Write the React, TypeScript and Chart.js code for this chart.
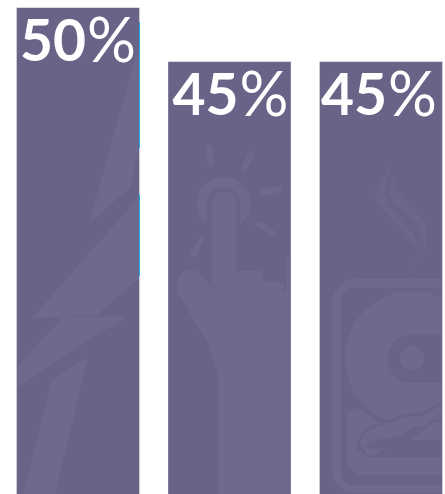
import { useEffect, useRef } from "react";
import { Chart, registerables } from "chart.js";

Chart.register(...registerables);

const categories = ["Power", "Touch", "Storage"];
const values = [50, 45, 45];
const valueLabels = ["50", "45", "45"];
const axisFloor = 5;
const axisCeiling = 50;

const BAR_COLOR = "#686488";
const GLYPH_COLOR = "#6e6a8e";
const WISP_COLOR = "#6c688c";
const EDGE_COLOR = "#1aa7d9";
const LABEL_INSETS = [3, 4, 1];

type Pt = [number, number];

// Artwork is laid out with x measured from the bar's left edge and y from the canvas top.
const boltShards: Pt[][] = [
  [[122, 45], [72, 223], [113, 188], [122, 147]],
  [[122, 197], [15, 318], [80, 315], [122, 278]],
  [[46, 317], [110, 316], [0, 387], [0, 367]],
  [[71, 357], [35, 380], [6, 494], [38, 494]],
];
const touchRays: [Pt, Pt][] = [
  [[40, 148], [43, 164]],
  [[83, 154], [75, 169]],
  [[111, 189], [94, 193]],
  [[90, 224], [104, 233]],
  [[33, 239], [25, 254]],
];
const smokeWisps: Pt[][] = [
  [[70, 165], [54, 193], [58, 203], [95, 245], [99, 250], [94, 235], [68, 205], [64, 193]],
  [[74, 177], [68, 192], [73, 202], [98, 225], [104, 240], [104, 252], [84, 277], [102, 258], [107, 240], [105, 222], [82, 197], [75, 190]],
];
const drivePanel: Pt[] = [[27, 412], [38, 408], [60, 423], [122, 423], [122, 475], [36, 475], [27, 465]];
const armOutline: Pt[] = [[37, 441], [45, 428], [89, 413], [102, 413], [117, 403], [122, 405], [122, 414], [105, 429], [90, 440], [122, 440], [122, 457], [48, 457], [37, 449]];
const armBody: Pt[] = [[40, 441], [47, 431], [90, 416], [103, 416], [118, 406], [122, 408], [122, 412], [103, 427], [93, 427], [80, 436], [50, 441], [45, 446], [52, 450], [66, 448], [54, 455], [47, 455]];

type Ctx = CanvasRenderingContext2D;

function poly(ctx: Ctx, pts: Pt[], fill: string) {
  ctx.beginPath();
  pts.forEach(([x, y], i) => (i ? ctx.lineTo(x, y) : ctx.moveTo(x, y)));
  ctx.closePath();
  ctx.fillStyle = fill;
  ctx.fill();
}

function drawBolt(ctx: Ctx) {
  boltShards.forEach((s) => poly(ctx, s, GLYPH_COLOR));
}

function drawTouch(ctx: Ctx) {
  ctx.strokeStyle = GLYPH_COLOR;
  ctx.lineWidth = 6;
  ctx.lineCap = "round";
  touchRays.forEach(([a, b]) => {
    ctx.beginPath();
    ctx.moveTo(a[0], a[1]);
    ctx.lineTo(b[0], b[1]);
    ctx.stroke();
  });
  // Halo around the fingertip
  ctx.fillStyle = GLYPH_COLOR;
  ctx.beginPath();
  ctx.arc(55, 204, 27, Math.PI * 0.85, Math.PI * 0.15);
  ctx.lineTo(72, 224);
  ctx.lineTo(72, 204);
  ctx.arc(55, 204, 17, 0, Math.PI, true);
  ctx.lineTo(38, 224);
  ctx.closePath();
  ctx.fill();
  // Pointing hand
  ctx.beginPath();
  ctx.arc(55.5, 204, 12.5, Math.PI, 0);
  ctx.lineTo(68, 271);
  ctx.lineTo(94, 271);
  ctx.lineTo(94, 282);
  ctx.lineTo(115, 282);
  ctx.lineTo(115, 292);
  ctx.lineTo(118, 292);
  ctx.lineTo(118, 257);
  ctx.lineTo(122, 257);
  ctx.lineTo(122, 494);
  ctx.lineTo(50, 494);
  ctx.lineTo(50, 375);
  ctx.lineTo(41, 347);
  ctx.lineTo(9, 292);
  ctx.lineTo(9, 282);
  ctx.quadraticCurveTo(12, 270, 23, 270);
  ctx.quadraticCurveTo(31, 271, 35, 277);
  ctx.lineTo(43, 289);
  ctx.closePath();
  ctx.fill();
}

function drawDrive(ctx: Ctx) {
  smokeWisps.forEach((s) => poly(ctx, s, WISP_COLOR));
  // Casing frame
  ctx.fillStyle = GLYPH_COLOR;
  ctx.beginPath();
  ctx.roundRect(12, 279, 140, 214, 24);
  ctx.roundRect(21, 288, 140, 197, 12);
  ctx.fill("evenodd");
  // Platter with spindle opening and hub
  ctx.beginPath();
  ctx.arc(92, 358, 67, 0, Math.PI * 2);
  ctx.fill();
  ctx.fillStyle = BAR_COLOR;
  ctx.beginPath();
  ctx.roundRect(68, 334, 80, 49, 24);
  ctx.fill();
  ctx.fillStyle = GLYPH_COLOR;
  ctx.beginPath();
  ctx.arc(92, 358, 12, 0, Math.PI * 2);
  ctx.fill();
  // Head panel and actuator arm
  poly(ctx, drivePanel, GLYPH_COLOR);
  poly(ctx, armOutline, BAR_COLOR);
  poly(ctx, armBody, GLYPH_COLOR);
}

const glyphs = [drawBolt, drawTouch, drawDrive];

const barArtwork = {
  id: "barArtwork",
  afterDatasetsDraw(chart: Chart) {
    const { ctx } = chart;
    const bars = chart.getDatasetMeta(0).data as any[];
    bars.forEach((bar, i) => {
      const left = bar.x - bar.width / 2;
      ctx.save();
      ctx.beginPath();
      ctx.rect(left, bar.y, bar.width, bar.base - bar.y);
      ctx.clip();
      ctx.translate(left, 0);
      glyphs[i](ctx);
      ctx.restore();

      // Heavy digits followed by a larger, lighter percent sign
      ctx.save();
      ctx.fillStyle = "#ffffff";
      ctx.textAlign = "left";
      ctx.textBaseline = "alphabetic";
      const x = left + LABEL_INSETS[i];
      const y = bar.y + 53;
      ctx.font = "700 57px Lato, sans-serif";
      ctx.fillText(valueLabels[i], x, y);
      const digits = ctx.measureText(valueLabels[i]).width;
      ctx.font = "400 61px Lato, sans-serif";
      ctx.fillText("%", x + digits + 1, y + 1);
      ctx.restore();
    });
    // Thin highlight along the first bar's right side
    const first = bars[0];
    const edge = first.x + first.width / 2;
    ctx.save();
    ctx.fillStyle = EDGE_COLOR;
    ctx.fillRect(edge, 22, 1, 126);
    ctx.fillRect(edge, 195, 1, 81);
    ctx.restore();
  },
};

export default function App() {
  const ref = useRef<HTMLCanvasElement>(null);
  useEffect(() => {
    const chart = new Chart(ref.current!, {
      type: "bar",
      data: {
        labels: categories,
        datasets: [
          {
            data: values,
            backgroundColor: BAR_COLOR,
            barThickness: 122,
            clip: false,
          } as any,
        ],
      },
      options: {
        animation: false,
        responsive: false,
        layout: { padding: { left: 78, right: 64, top: 8, bottom: 0 } },
        plugins: { legend: { display: false }, tooltip: { enabled: false } },
        scales: {
          x: { display: false, offset: false },
          y: { display: false, min: axisFloor, max: axisCeiling },
        },
      },
      plugins: [barArtwork],
    });
    return () => chart.destroy();
  }, []);
  return (
    <canvas
      ref={ref}
      width={445}
      height={494}
      style={{ position: "fixed", left: 0, top: 0, display: "block" }}
    />
  );
}
